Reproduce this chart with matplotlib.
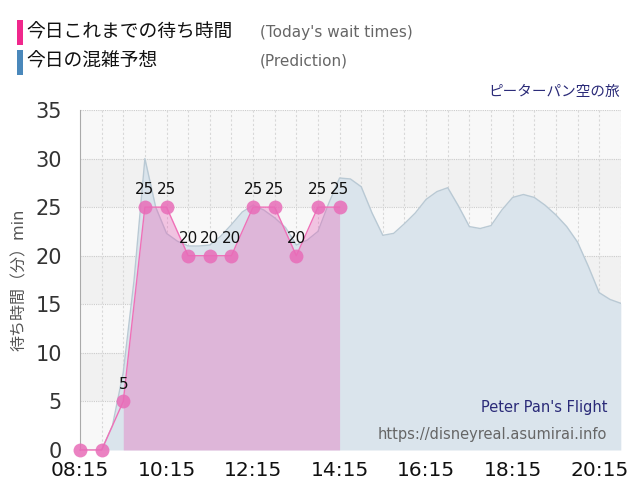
import matplotlib
matplotlib.use("Agg")
import matplotlib.pyplot as plt
from matplotlib.patches import Rectangle
import numpy as np

plt.rcParams['font.family'] = ['DejaVu Sans', 'Noto Sans CJK JP']

# ---- data ----
actual_times = ["08:15", "08:45", "09:15", "09:45", "10:15", "10:45", "11:15",
                "11:45", "12:15", "12:45", "13:15", "13:45", "14:15"]
actual_values = [0, 0, 5, 25, 25, 20, 20, 20, 25, 25, 20, 25, 25]

pred_times = ["08:15", "08:30", "08:45", "09:00", "09:15", "09:30", "09:45", "10:00",
              "10:15", "10:30", "10:45", "11:00", "11:15", "11:30", "11:45", "12:00",
              "12:15", "12:30", "12:45", "13:00", "13:15", "13:30", "13:45", "14:00",
              "14:15", "14:30", "14:45", "15:00", "15:15", "15:30", "15:45", "16:00",
              "16:15", "16:30", "16:45", "17:00", "17:15", "17:30", "17:45", "18:00",
              "18:15", "18:30", "18:45", "19:00", "19:15", "19:30", "19:45", "20:00",
              "20:15", "20:30", "20:45"]
pred_values = [0, 0, 0, 2.5, 8, 17.5, 30, 25, 22.3, 21.5, 21.0, 21.0, 21.1, 22.0,
               23.2, 24.5, 25.2, 24.7, 23.9, 22.9, 21.1, 21.6, 22.5, 25.4, 28.0,
               27.9, 27.1, 24.4, 22.1, 22.3, 23.3, 24.4, 25.8, 26.6, 27.0, 25.1,
               23.0, 22.8, 23.1, 24.7, 26.0, 26.3, 26.0, 25.2, 24.2, 23.0, 21.4,
               18.9, 16.2, 15.5, 15.1]

xtick_labels = ["08:15", "10:15", "12:15", "14:15", "16:15", "18:15", "20:15"]
yticks = [0, 5, 10, 15, 20, 25, 30, 35]

title_jp = "ピーターパン空の旅"
title_en = "Peter Pan's Flight"
site = "https://disneyreal.asumirai.info"


def to_h(s):
    h, m = s.split(":")
    return int(h) + int(m) / 60.0


ax_t = np.array([to_h(t) for t in actual_times])
av = np.array(actual_values, dtype=float)
pt = np.array([to_h(t) for t in pred_times])
pv = np.array(pred_values, dtype=float)
xt = [to_h(t) for t in xtick_labels]

fig = plt.figure(figsize=(6.4, 5.0), dpi=100)
ax = fig.add_axes([0.125, 0.10, 0.845, 0.68])

x0, x1 = to_h("08:15"), to_h("20:45")
ax.set_xlim(x0, x1)
ax.set_ylim(0, 35)

# alternating bands
for i, lo in enumerate(range(0, 35, 5)):
    col = "#f8f8f8" if i % 2 == 0 else "#f1f1f1"
    ax.axhspan(lo, lo + 5, color=col, zorder=0, lw=0)

# grid
for y in yticks[1:]:
    ax.axhline(y, color="#cccccc", lw=0.8, ls=(0, (1, 1)), zorder=1)
grid_x = np.arange(x0 + 0.5, x1 + 0.01, 0.5)
for x in grid_x:
    ax.axvline(x, color="#d8d8d8", lw=0.8, ls=(0, (2, 2)), zorder=1)

# prediction
ax.fill_between(pt, pv, 0, color="#dae4ec", lw=0, zorder=2)
ax.plot(pt, pv, color="#b9c9d4", lw=1.0, zorder=3)

# actual
nz = av > 0
first = np.argmax(nz)
ax.fill_between(ax_t[first:], av[first:], 0, color=(0.90, 0.38, 0.72), alpha=0.35,
                lw=0, zorder=4)
ax.plot(ax_t, av, color="#f070b8", lw=1.0, zorder=5, clip_on=False)
ax.plot(ax_t, av, "o", ms=10, color="#e86cb8", alpha=0.85, mec="none", zorder=6,
        clip_on=False)
for x, v in zip(ax_t, av):
    if v > 0:
        ax.annotate(f"{int(v)}", (x, v), xytext=(0, 7), textcoords="offset points",
                    ha="center", va="bottom", fontsize=11, color="#111111", zorder=7)

# axes styling
ax.set_xticks(xt)
ax.set_xticklabels(xtick_labels, fontsize=14.5, color="#111111")
ax.set_yticks(yticks)
ax.set_yticklabels([str(v) for v in yticks], fontsize=15, color="#333333")
ax.tick_params(axis="x", length=0, pad=8)
ax.tick_params(axis="y", length=0, pad=13)
for s in ["top", "right"]:
    ax.spines[s].set_visible(False)
ax.spines["left"].set_color("#aaaaaa")
ax.spines["bottom"].set_visible(False)
ax.set_ylabel("待ち時間（分）min", fontsize=11.5, color="#555555", labelpad=6)

# texts inside plot
ax.text(0.975, 0.125, title_en, transform=ax.transAxes, ha="right", va="center",
        fontsize=10.5, color="#2a2a78", zorder=8)
ax.text(0.975, 0.045, site, transform=ax.transAxes, ha="right", va="center",
        fontsize=10.5, color="#666666", zorder=8)

# title top-right
fig.text(620 / 640, 1 - 91 / 500, title_jp, ha="right", va="center", fontsize=10.5,
         color="#2a2a78")

# legend
fig.patches.append(Rectangle((17 / 640, 1 - 45 / 500), 6 / 640, 25 / 500,
                             transform=fig.transFigure, color="#f0288c", lw=0))
fig.patches.append(Rectangle((17 / 640, 1 - 75 / 500), 6 / 640, 25 / 500,
                             transform=fig.transFigure, color="#4a88bb", lw=0))
fig.text(26 / 640, 1 - 32 / 500, "今日これまでの待ち時間", ha="left", va="center",
         fontsize=13.5, color="#111111")
fig.text(26 / 640, 1 - 61 / 500, "今日の混雑予想", ha="left", va="center",
         fontsize=13.5, color="#111111")
fig.text(260 / 640, 1 - 32 / 500, "(Today's wait times)", ha="left", va="center",
         fontsize=11, color="#666666")
fig.text(260 / 640, 1 - 61 / 500, "(Prediction)", ha="left", va="center",
         fontsize=11, color="#666666")

fig.savefig("out.png", dpi=100)
